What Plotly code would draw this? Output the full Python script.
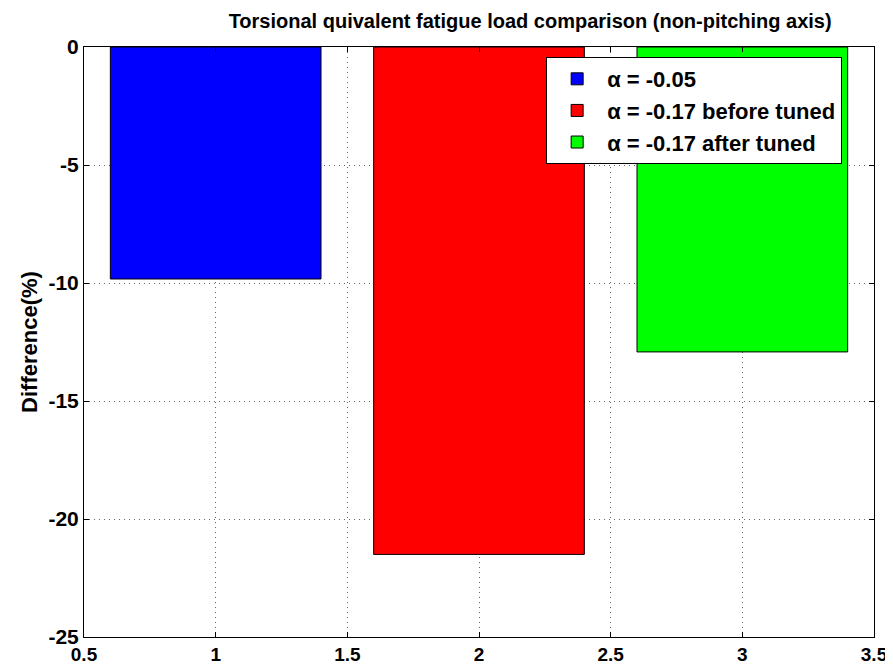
import plotly.graph_objects as go

# ===== Data =====
posities = [1, 2, 3]
verschil = [-9.83, -21.5, -12.92]
namen = ["\u03b1 = -0.05", "\u03b1 = -0.17 before tuned", "\u03b1 = -0.17 after tuned"]
kleuren = ["#0000ff", "#ff0000", "#00ff00"]

x_ticks = [0.5, 1, 1.5, 2, 2.5, 3, 3.5]
y_ticks = [-25, -20, -15, -10, -5, 0]

font_fam = "Liberation Sans, Arial, sans-serif"

fig = go.Figure()
for x, y, n, k in zip(posities, verschil, namen, kleuren):
    fig.add_trace(go.Bar(
        x=[x], y=[y], name=f"<b>{n}</b>", width=0.8,
        marker=dict(color=k, line=dict(color="black", width=1)),
    ))

# page has an 8px body margin, so the figure is a bit smaller
fig.update_layout(
    width=885, height=657,
    margin=dict(l=76, r=19, t=39, b=28, autoexpand=False),
    plot_bgcolor="white", paper_bgcolor="white",
    font=dict(family=font_fam, color="black", size=16),
    title=dict(text="<b>Torsional quivalent fatigue load comparison (non-pitching axis)</b>",
               x=0.59, xanchor="center", y=0.98, yanchor="middle",
               font=dict(size=20)),
    showlegend=True,
    legend=dict(x=0.585, y=0.983, xanchor="left", yanchor="top",
                bgcolor="white", bordercolor="black", borderwidth=1,
                font=dict(size=22),
                itemwidth=50, tracegroupgap=2),
    barmode="overlay",
)

axis_common = dict(
    showline=True, linecolor="black", linewidth=1, mirror="ticks",
    ticks="inside", ticklen=5, tickcolor="black",
    showgrid=True, gridcolor="#666666", griddash="1px,4px", gridwidth=1,
    zeroline=False, automargin=False,
)
fig.update_xaxes(range=[0.5, 3.5], tickvals=x_ticks,
                 ticktext=[f"<b>{t:g}</b>" for t in x_ticks],
                 tickfont=dict(size=19), **axis_common)
fig.update_yaxes(range=[-25, 0], tickvals=y_ticks,
                 ticktext=[f"<b>{t:g}</b>" for t in y_ticks],
                 tickfont=dict(size=21),
                 title=dict(text="<b>Difference(%)</b>", standoff=4, font=dict(size=22)),
                 **axis_common)

fig.write_html("out.html")
